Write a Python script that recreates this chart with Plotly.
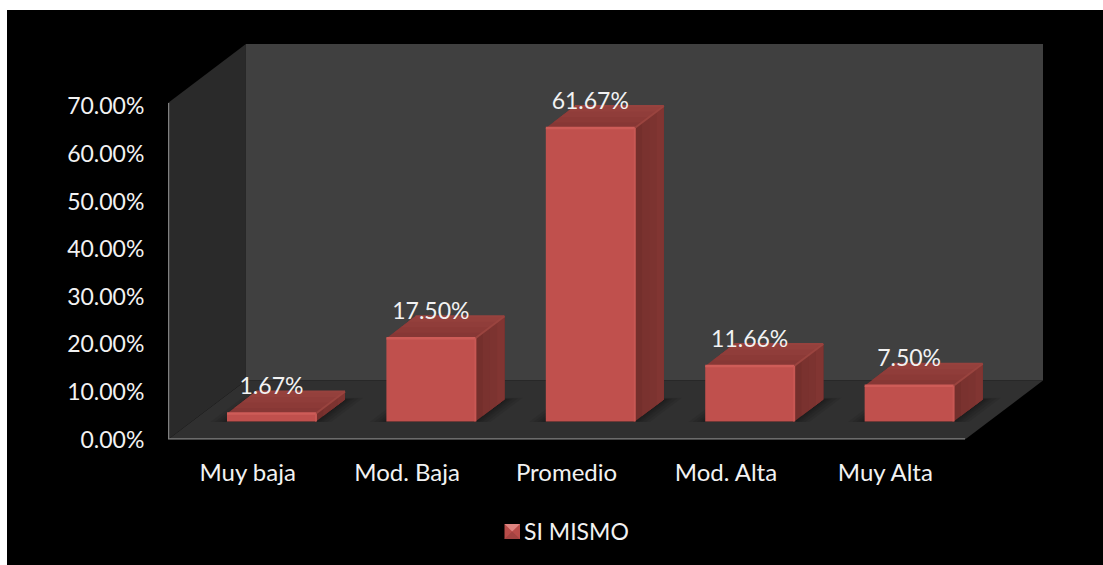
import plotly.graph_objects as go

# Chart data
categories = ["Muy baja", "Mod. Baja", "Promedio", "Mod. Alta", "Muy Alta"]
values = [1.67, 17.50, 61.67, 11.66, 7.50]
y_ticks = [0, 10, 20, 30, 40, 50, 60, 70]
series_name = "SI MISMO"

# Oblique projection: depth 0 is the front of the floor, depth 1 the back wall
PX_PER_UNIT = 4.76
DEPTH_X = 0.489
DEPTH_Y = 59 / PX_PER_UNIT
BAR_WIDTH = 0.558
BAR_FRONT = 0.305
BAR_BACK = 0.678
LABEL_DEPTH = 0.73
WALL_TOP = 70.7
N = len(categories)
X_FRONT_END = N - 0.5
W, H = 1103, 565


def project(x, v, d):
    return x + d * DEPTH_X, v + d * DEPTH_Y


def polygon(points, color):
    xs, ys = zip(*[project(*p) for p in points])
    return go.Scatter(
        x=list(xs) + [xs[0]], y=list(ys) + [ys[0]], mode="lines", fill="toself",
        fillcolor=color, line=dict(width=0), hoverinfo="skip", showlegend=False,
    )


def edge(points, color, width):
    xs, ys = zip(*[project(*p) for p in points])
    return go.Scatter(
        x=list(xs), y=list(ys), mode="lines", line=dict(color=color, width=width),
        hoverinfo="skip", showlegend=False,
    )


def path(points):
    pts = [project(*p) for p in points]
    return "M " + " L ".join(f"{x},{y}" for x, y in pts) + " Z"


def page_path(points):
    return "M " + " L ".join(f"{x / W},{1 - y / H}" for x, y in points) + " Z"


def swatch_facet(points, color):
    return dict(type="path", xref="paper", yref="paper", path=page_path(points),
                fillcolor=color, line_width=0, layer="above")


x0, x1 = -0.5, X_FRONT_END
shapes = [
    dict(type="rect", xref="paper", yref="paper", x0=7 / W, x1=1, y0=0, y1=1 - 10 / H,
         fillcolor="#000000", line_width=0, layer="below"),
    dict(type="path", path=path([(x0, 0, 0), (x0, 0, 1), (x0, WALL_TOP, 1), (x0, WALL_TOP, 0)]),
         fillcolor="#2A2A2A", line_width=0, layer="below"),
    dict(type="path", path=path([(x0, 0, 1), (x1, 0, 1), (x1, WALL_TOP, 1), (x0, WALL_TOP, 1)]),
         fillcolor="#404040", line_width=0, layer="below"),
    dict(type="path", path=path([(x0, 0, 0), (x1, 0, 0), (x1, 0, 1), (x0, 0, 1)]),
         fillcolor="#303030", line_width=0, layer="below"),
    # Bevelled legend swatch
    swatch_facet([(504.5, 524), (520, 524), (520, 539), (504.5, 539)], "#B84C49"),
    swatch_facet([(504.5, 524), (520, 524), (512.2, 531.5)], "#DE8480"),
    swatch_facet([(504.5, 539), (520, 539), (512.2, 531.5)], "#A24341"),
]

# Soft shadows around each bar's footprint
for i in range(N):
    hw = BAR_WIDTH / 2
    for grow in (0.10, 0.075, 0.05, 0.03, 0.015):
        shapes.append(dict(
            type="path",
            path=path([
                (i - hw - grow, 0, BAR_FRONT - grow * 0.1), (i + hw + grow, 0, BAR_FRONT - grow * 0.1),
                (i + hw + grow, 0, BAR_BACK + grow * 0.3), (i - hw - grow, 0, BAR_BACK + grow * 0.3),
            ]),
            fillcolor="rgba(0,0,0,0.08)", line_width=0, layer="below",
        ))

traces = []

# Front faces
traces.append(go.Bar(
    x=[i + BAR_FRONT * DEPTH_X for i in range(N)],
    y=values,
    base=[BAR_FRONT * DEPTH_Y] * N,
    width=BAR_WIDTH,
    marker=dict(color="#C0504D", line=dict(width=0)),
    hoverinfo="skip", showlegend=False,
))

TOP_SHADES = ["#873735", "#8C3A37", "#903D3A", "#94403C"]
SIDE_SHADES = ["#742F2C", "#7A322F", "#7C3330", "#813532"]

# Side and top faces: each shade overlaps the next so the bands leave no seams
for i, v in enumerate(values):
    l, r = i - BAR_WIDTH / 2, i + BAR_WIDTH / 2
    step = (BAR_BACK - BAR_FRONT) / len(TOP_SHADES)
    for k in range(len(TOP_SHADES)):
        d_a = BAR_FRONT + k * step
        traces.append(polygon([(r, 0, d_a), (r, 0, BAR_BACK), (r, v, BAR_BACK), (r, v, d_a)], SIDE_SHADES[k]))
        traces.append(polygon([(l, v, d_a), (r, v, d_a), (r, v, BAR_BACK), (l, v, BAR_BACK)], TOP_SHADES[k]))
    traces.append(edge([(r, v, BAR_FRONT), (r, v, BAR_BACK)], "#9A443F", 2))
    traces.append(edge([(l, v, BAR_BACK), (r, v, BAR_BACK)], "#97423E", 2))
    traces.append(edge([(l, v, BAR_FRONT), (r, v, BAR_FRONT)], "#CE5C58", 2.5))
    traces.append(edge([(r, v, BAR_FRONT), (r, 0, BAR_FRONT)], "#C85854", 2))

# Axis lines along the front of the box
traces.append(edge([(x0, WALL_TOP, 0), (x0, 0, 0), (x1, 0, 0)], "#7F7F7F", 2.5))

# Value labels
traces.append(go.Scatter(
    x=[i + BAR_FRONT * DEPTH_X for i in range(N)],
    y=[v + LABEL_DEPTH * DEPTH_Y for v in values],
    text=[f"{v:.2f}%" for v in values],
    mode="text", textposition="middle center",
    textfont=dict(family="Lato", size=23, color="#F2F2F2"),
    hoverinfo="skip", showlegend=False, cliponaxis=False,
))

# Legend entry for the series; its key is the bevelled swatch drawn among the shapes
traces.append(go.Scatter(
    x=[None], y=[None], mode="markers", name=series_name,
    marker=dict(symbol="square", size=15, color="rgba(0,0,0,0)", line=dict(width=0)),
    hoverinfo="skip",
))

fig = go.Figure(traces)
fig.update_layout(
    width=W, height=H,
    margin=dict(l=0, r=0, t=0, b=0, autoexpand=False),
    paper_bgcolor="#FFFFFF", plot_bgcolor="rgba(0,0,0,0)",
    font=dict(family="Lato", size=23, color="#F2F2F2"),
    shapes=shapes,
    showlegend=True,
    legend=dict(x=484 / W, y=1 - 531.5 / H, xanchor="left", yanchor="middle",
                bgcolor="rgba(0,0,0,0)", itemsizing="trace",
                font=dict(family="Lato", size=23, color="#F2F2F2")),
    xaxis=dict(
        domain=[168 / W, 1043 / W],
        range=[-0.5, -0.5 + N + DEPTH_X],
        tickmode="array", tickvals=list(range(N)), ticktext=categories,
        tickfont=dict(family="Lato", size=24, color="#F2F2F2"),
        showgrid=False, zeroline=False, showline=False,
        ticks="outside", ticklen=12, tickcolor="rgba(0,0,0,0)",
    ),
    yaxis=dict(
        domain=[1 - 439.5 / H, 1 - 44 / H],
        range=[0, 395.5 / PX_PER_UNIT],
        tickmode="array", tickvals=y_ticks, ticktext=[f"{t:.2f}%" for t in y_ticks],
        showgrid=False, zeroline=False, showline=False,
        ticks="outside", ticklen=18, tickcolor="rgba(0,0,0,0)",
    ),
)

fig.write_html("out.html")
